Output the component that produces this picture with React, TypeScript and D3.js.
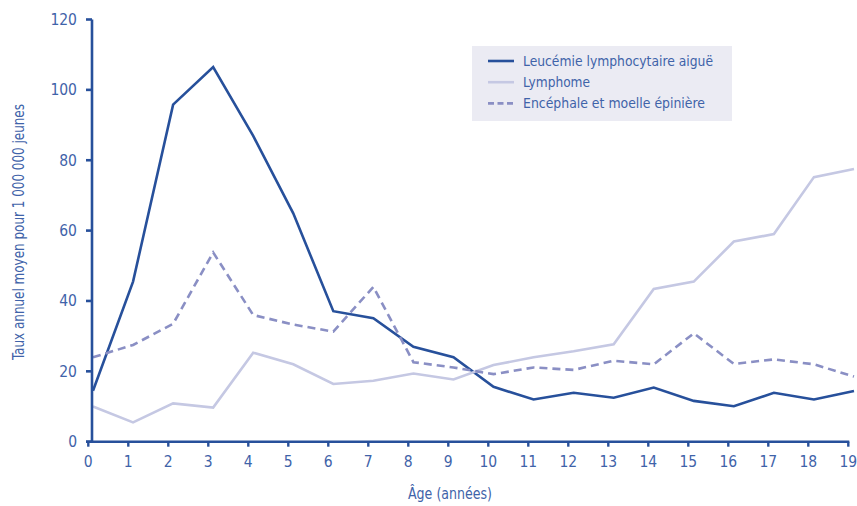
import React from "react";
import * as d3 from "d3";

const ages = [0,1,2,3,4,5,6,7,8,9,10,11,12,13,14,15,16,17,18,19];
const leucemie = [14.5,45.5,95.8,106.5,86.9,64.9,37.1,35.1,27,24,15.6,12,13.9,12.5,15.4,11.6,10.1,13.9,12,14.4];
const lymphome = [10,5.5,10.9,9.7,25.3,22,16.4,17.3,19.4,17.7,21.8,24,25.7,27.7,43.4,45.5,56.9,59,75.2,77.5];
const encephale = [24,27.5,33.5,53.8,36,33.3,31.3,44,22.6,21.1,19.2,21.1,20.4,23,22,30.8,22.1,23.4,22,18.5];
const yTicks = [0,20,40,60,80,100,120];
const legendLabels = ["Leucémie lymphocytaire aiguë","Lymphome","Encéphale et moelle épinière"];
const legendLengths = [190, 67, 182];

const W = 857, H = 506;
const axisColor = "#27509b";
const textColor = "#3f63a9";
const colors = ["#27509b", "#c5c8e3", "#8a8fc4"];
const font = "'Liberation Sans Narrow', 'DejaVu Sans Condensed', 'Roboto Condensed', sans-serif";

export default function App() {
  const xData = d3.scaleLinear().domain([0, 19]).range([93, 854]);
  const xTick = d3.scaleLinear().domain([0, 19]).range([88.3, 848.3]);
  const y = d3.scaleLinear().domain([0, 120]).range([441.7, 19.5]);
  const line = d3.line<number>().x((_, i) => xData(ages[i])).y((v) => y(v));
  const series = [leucemie, lymphome, encephale];
  const x0 = 92;
  return (
    <svg width={W} height={H} style={{ position: "absolute", left: 0, top: 0, background: "#fff" }} fontFamily={font}>
      {/* legend */}
      <rect x={472} y={46} width={260} height={75} fill="#ebebf3" />
      {legendLabels.map((l, i) => (
        <g key={l}>
          <line x1={488} x2={514} y1={61 + i * 21.2} y2={61 + i * 21.2} stroke={colors[i]} strokeWidth={2.6}
            strokeDasharray={i === 2 ? "6,3.5" : undefined} />
          <text x={523} y={61 + i * 21.2} dy="0.35em" fontSize={14.5} fill={textColor}
            textLength={legendLengths[i]} lengthAdjust="spacingAndGlyphs">{l}</text>
        </g>
      ))}
      {/* series */}
      {series.map((s, i) => (
        <path key={i} d={line(s) || ""} fill="none" stroke={colors[i]} strokeWidth={2.6}
          strokeLinejoin="miter" strokeDasharray={i === 2 ? "8,5" : undefined} />
      ))}
      {/* axes */}
      <line x1={x0} x2={x0} y1={y(120)} y2={y(0)} stroke={axisColor} strokeWidth={2.6} />
      <line x1={86} x2={xTick(19) + 1} y1={y(0)} y2={y(0)} stroke={axisColor} strokeWidth={2.6} />
      {yTicks.map((t) => (
        <g key={t}>
          <line x1={86} x2={x0} y1={y(t)} y2={y(t)} stroke={axisColor} strokeWidth={2.6} />
          <text x={77} y={y(t)} dy="0.35em" textAnchor="end" fontSize={15.5} fill={textColor}>{t}</text>
        </g>
      ))}
      {ages.map((a) => (
        <g key={a}>
          <line x1={xTick(a)} x2={xTick(a)} y1={y(0)} y2={y(0) + 5} stroke={axisColor} strokeWidth={2.4} />
          <text x={xTick(a)} y={462} dy="0.35em" textAnchor="middle" fontSize={15.5} fill={textColor}>{a}</text>
        </g>
      ))}
      <text x={450} y={494} dy="0.35em" textAnchor="middle" fontSize={15.5} fill={textColor}
        textLength={84} lengthAdjust="spacingAndGlyphs">Âge (années)</text>
      <text transform={`translate(19,232) rotate(-90)`} dy="0.35em" textAnchor="middle" fontSize={15} fill={textColor}
        textLength={256} lengthAdjust="spacingAndGlyphs">
        Taux annuel moyen pour 1 000 000 jeunes
      </text>
    </svg>
  );
}
